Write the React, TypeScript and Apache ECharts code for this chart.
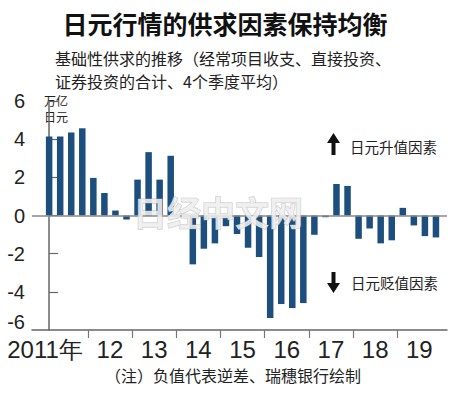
import React, { useEffect, useRef } from "react";
import * as echarts from "echarts";

const years = ["2011年", "12", "13", "14", "15", "16", "17", "18", "19"];
const quarters = [
  "2011Q1","2011Q2","2011Q3","2011Q4",
  "2012Q1","2012Q2","2012Q3","2012Q4",
  "2013Q1","2013Q2","2013Q3","2013Q4",
  "2014Q1","2014Q2","2014Q3","2014Q4",
  "2015Q1","2015Q2","2015Q3","2015Q4",
  "2016Q1","2016Q2","2016Q3","2016Q4",
  "2017Q1","2017Q2","2017Q3","2017Q4",
  "2018Q1","2018Q2","2018Q3","2018Q4",
  "2019Q1","2019Q2","2019Q3","2019Q4",
];
const values = [
  4.14, 4.14, 4.35, 4.57,
  1.97, 1.18, 0.26, -0.21,
  1.88, 3.32, 1.88, 3.13,
  0, -2.56, -1.74, -1.46,
  -0.56, -0.97, -1.69, -2.17,
  -5.37, -4.64, -4.85, -4.59,
  -1.01, -0.09, 1.65, 1.55,
  -1.22, -0.68, -1.46, -1.30,
  0.40, -0.52, -1.08, -1.15,
];
const yTicks = [-6, -4, -2, 0, 2, 4, 6];

const CJK = '"Noto Sans CJK SC", "Noto Sans", sans-serif';
const NUM = '"Liberation Sans Narrow", "Liberation Sans", Arial, sans-serif';

export default function App() {
  const ref = useRef<HTMLDivElement>(null);
  useEffect(() => {
    if (!ref.current) return;
    const chart = echarts.init(ref.current, undefined, { renderer: "svg" });
    const yearBoundaries = years.slice(1).map((_, k) => (k + 1) * 4 - 0.5);
    const labelPos = years.map((_, k) => (k === 0 ? -0.37 : k * 4 + 1.5));
    const labelFor = (v: number) => {
      const k = labelPos.findIndex((p) => Math.abs(p - v) < 0.01);
      return k >= 0 ? years[k] : "";
    };
    const yMin = yTicks[0];
    chart.setOption({
      animation: false,
      backgroundColor: "#ffffff",
      grid: { left: 32, right: 3, top: 101, bottom: 66 },
      xAxis: {
        type: "value",
        min: -1.55,
        max: 36,
        splitLine: { show: false },
        axisLine: { onZero: false, lineStyle: { color: "#666", width: 1.5 } },
        axisTick: {
          show: true,
          customValues: yearBoundaries,
          length: 8,
          lineStyle: { color: "#777", width: 1.2 },
        },
        axisLabel: {
          customValues: labelPos,
          formatter: (v: number) => labelFor(v),
          fontFamily: NUM,
          fontSize: 24,
          color: "#222",
          margin: 7,
        },
      },
      yAxis: {
        type: "value",
        min: -6,
        max: 6,
        interval: 2,
        splitLine: { show: false },
        axisLine: { show: true, lineStyle: { color: "#666", width: 1.5 } },
        axisTick: { show: true, inside: true, length: 9, lineStyle: { color: "#666", width: 1.2 } },
        axisLabel: {
          fontFamily: NUM,
          fontSize: 20,
          color: "#222",
          margin: 7,
          showMinLabel: false,
          formatter: (v: number) => (yTicks.includes(v) && v !== yMin ? String(v) : ""),
        },
      },
      series: [
        {
          type: "bar",
          name: "供求",
          data: values.map((v, i) => [i, v]),
          barWidth: 6.5,
          itemStyle: { color: "#1c4f7e" },
          markLine: {
            silent: true,
            symbol: "none",
            label: { show: false },
            lineStyle: { color: "#8a8a8a", width: 1.6, type: "solid" },
            data: [{ yAxis: 0 }],
          },
        },
      ],
      graphic: [
        {
          type: "text",
          x: 25,
          y: 322,
          style: {
            text: String(yMin),
            font: `20px ${NUM}`,
            fill: "#222",
            textAlign: "right",
            textVerticalAlign: "middle",
          },
        },
        {
          type: "text",
          left: "center",
          top: 10,
          style: {
            text: "日元行情的供求因素保持均衡",
            font: `bold 25px ${CJK}`,
            fill: "#111",
          },
        },
        {
          type: "text",
          x: 55,
          y: 58,
          style: {
            text: "基础性供求的推移（经常项目收支、直接投资、",
            font: `16px ${CJK}`,
            fill: "#222",
            textVerticalAlign: "middle",
          },
        },
        {
          type: "text",
          x: 55,
          y: 80.5,
          style: {
            text: "证券投资的合计、4个季度平均）",
            font: `16px ${CJK}`,
            fill: "#222",
            textVerticalAlign: "middle",
          },
        },
        {
          type: "text",
          x: 44,
          y: 100.7,
          style: { text: "万亿", font: `12px ${CJK}`, fill: "#222", textVerticalAlign: "middle" },
        },
        {
          type: "text",
          x: 44,
          y: 116.5,
          style: { text: "日元", font: `12px ${CJK}`, fill: "#222", textVerticalAlign: "middle" },
        },
        {
          type: "text",
          x: 133,
          y: 211,
          z: 100,
          style: {
            text: "日经中文网",
            font: `bold 34px ${CJK}`,
            fill: "rgba(238,238,238,0.9)",
            stroke: "rgba(160,160,160,0.6)",
            lineWidth: 1,
            textVerticalAlign: "middle",
          },
        },
        {
          type: "polygon",
          shape: {
            points: [[327, 143], [333.5, 133], [340, 143], [335.5, 143], [335.5, 155], [331.5, 155], [331.5, 143]],
          },
          style: { fill: "#111" },
        },
        {
          type: "text",
          x: 350,
          y: 146,
          style: { text: "日元升值因素", font: `14.5px ${CJK}`, fill: "#222", textVerticalAlign: "middle" },
        },
        {
          type: "polygon",
          shape: {
            points: [[327, 283], [333.5, 293], [340, 283], [335.5, 283], [335.5, 272], [331.5, 272], [331.5, 283]],
          },
          style: { fill: "#111" },
        },
        {
          type: "text",
          x: 351,
          y: 282,
          style: { text: "日元贬值因素", font: `14.5px ${CJK}`, fill: "#222", textVerticalAlign: "middle" },
        },
        {
          type: "text",
          x: 233,
          y: 375,
          style: {
            text: "（注）负值代表逆差、瑞穗银行绘制",
            font: `16px ${CJK}`,
            fill: "#222",
            textAlign: "center",
            textVerticalAlign: "middle",
          },
        },
      ],
    });
    return () => chart.dispose();
  }, []);
  return <div ref={ref} style={{ width: 450, height: 396, position: "fixed", left: 0, top: 0 }} />;
}
